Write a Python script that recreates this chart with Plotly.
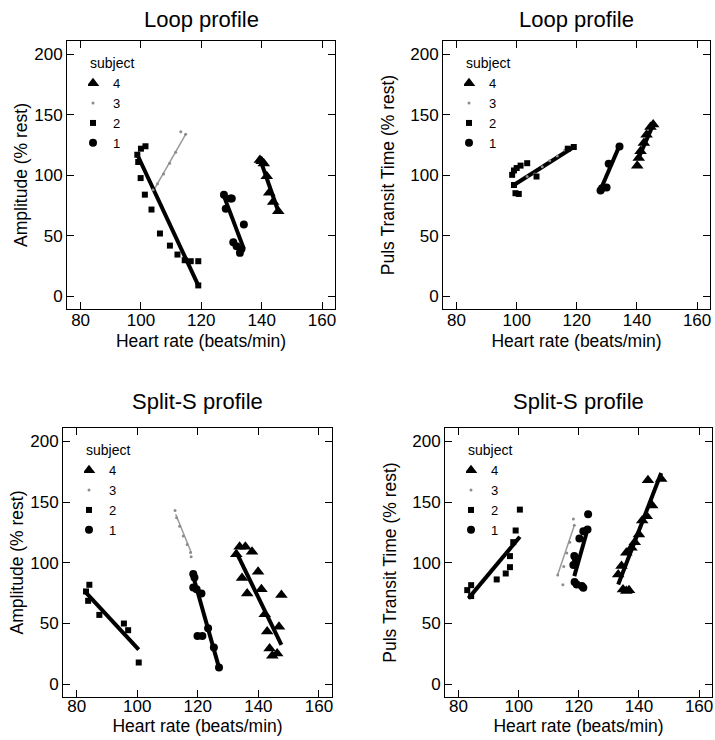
import plotly.graph_objects as go

# ---------------- data ----------------
x_ticks = [80, 100, 120, 140, 160]
y_ticks = [0, 50, 100, 150, 200]
subjects = ["4", "3", "2", "1"]
panel_titles = ["Loop profile", "Loop profile", "Split-S profile", "Split-S profile"]
x_title = "Heart rate (beats/min)"
y_titles = ["Amplitude (% rest)", "Puls Transit Time (% rest)",
            "Amplitude (% rest)", "Puls Transit Time (% rest)"]

# Loop profile - Amplitude
loop_amp_s4_hr = [139.4, 140.0, 140.7, 141.7, 142.5, 143.8, 145.5]
loop_amp_s4_val = [112.6, 111.7, 109.8, 99.3, 85.5, 78.0, 70.3]
loop_amp_s3_hr = [104.0, 105.5, 107.5, 109.5, 111.5, 113.2, 114.8]
loop_amp_s3_val = [88, 93, 101, 110, 119, 136, 134]
loop_amp_s2_hr = [100.0, 101.5, 98.8, 99.1, 99.9, 101.3, 103.5, 106.3, 109.6, 112.1, 114.5, 116.5, 119.0, 119.0]
loop_amp_s2_val = [122, 124, 117, 111, 97.7, 84, 71.7, 51.9, 41.9, 34.5, 29.8, 29, 29, 9]
loop_amp_s1_hr = [127.5, 128.1, 129.7, 130.1, 134.1, 130.6, 131.7, 132.8, 133.3]
loop_amp_s1_val = [84, 72.3, 80.8, 80.8, 59.3, 44.7, 41.4, 35.9, 39]
loop_amp_fit_s4_hr = [139.7, 145.5]
loop_amp_fit_s4_val = [111.7, 70.3]
loop_amp_fit_s3_hr = [104.4, 114.9]
loop_amp_fit_s3_val = [88.3, 134.3]
loop_amp_fit_s2_hr = [98.8, 119.0]
loop_amp_fit_s2_val = [117, 9]
loop_amp_fit_s1_hr = [127.5, 134.1]
loop_amp_fit_s1_val = [82.8, 39.2]

# Loop profile - Puls Transit Time
loop_ptt_s4_hr = [140.1, 140.6, 141.2, 142.3, 143.2, 144.5, 145.4]
loop_ptt_s4_val = [107.9, 114.2, 119.8, 126.7, 133.6, 140.0, 141.9]
loop_ptt_s3_hr = [103.5, 106.0, 108.5, 111.0, 113.5, 116.0]
loop_ptt_s3_val = [99, 101, 107, 112, 116, 121]
loop_ptt_s2_hr = [98.5, 99.1, 100.0, 101.3, 103.5, 99.6, 100.7, 99.1, 106.6, 117.0, 119.0]
loop_ptt_s2_val = [100.4, 104, 106, 108, 110, 85.2, 84.6, 92, 99, 122, 123.4]
loop_ptt_s1_hr = [127.9, 128.4, 129.9, 130.6, 134.2]
loop_ptt_s1_val = [87.4, 89.3, 89.9, 109.5, 123.9]
loop_ptt_fit_s4_hr = [140.3, 145.4]
loop_ptt_fit_s4_val = [112.9, 141.9]
loop_ptt_fit_s3_hr = [104.0, 116.5]
loop_ptt_fit_s3_val = [99, 121]
loop_ptt_fit_s2_hr = [98.8, 119.0]
loop_ptt_fit_s2_val = [91.6, 123.4]
loop_ptt_fit_s1_hr = [127.9, 134.2]
loop_ptt_fit_s1_val = [88, 124.5]

# Split-S profile - Amplitude
split_amp_s4_hr = [132.7, 133.8, 135.7, 137.9, 134.6, 136.3, 139.9, 141.0, 142.1, 142.9,
                   143.7, 144.6, 146.2, 146.8, 147.6]
split_amp_s4_val = [107.1, 113.2, 113.2, 109.1, 87.4, 74.7, 92.6, 78.3, 57.7, 43.4,
                    29.4, 23.4, 25.3, 47.3, 73.4]
split_amp_s3_hr = [112.5, 113.0, 114.0, 115.2, 116.5, 117.6, 117.8]
split_amp_s3_val = [143, 137, 130, 122, 115, 108.5, 105]
split_amp_s2_hr = [84.2, 83.1, 83.8, 87.5, 95.6, 97.0, 100.5]
split_amp_s2_val = [81.9, 76.4, 68.7, 57.1, 50.0, 44.5, 17.9]
split_amp_s1_hr = [118.5, 118.9, 118.5, 119.6, 121.2, 119.9, 121.5, 123.4, 125.3, 127.0]
split_amp_s1_val = [90.7, 87.9, 79.7, 78.3, 74.7, 39.8, 39.8, 46.2, 30.2, 13.7]
split_amp_fit_s4_hr = [132.5, 147.6]
split_amp_fit_s4_val = [109.9, 32.4]
split_amp_fit_s3_hr = [112.7, 117.9]
split_amp_fit_s3_val = [140, 108]
split_amp_fit_s2_hr = [82.7, 100.5]
split_amp_fit_s2_val = [76.4, 28.6]
split_amp_fit_s1_hr = [118.5, 127.0]
split_amp_fit_s1_val = [88.7, 13.7]

# Split-S profile - Puls Transit Time
split_ptt_s4_hr = [135.8, 136.7, 134.7, 133.1, 134.2, 135.8, 137.5, 138.6, 140.0, 141.1,
                   142.6, 143.0, 147.4, 144.4]
split_ptt_s4_val = [76.7, 77.5, 78.0, 90.4, 97.3, 108.2, 112.3, 117.0, 123.3, 134.8,
                    138.4, 168.0, 169.0, 147.1]
split_ptt_s3_hr = [113.0, 114.7, 115.0, 116.0, 117.0, 118.2, 118.5]
split_ptt_s3_val = [90, 82, 97, 108, 117, 136, 131]
split_ptt_s2_hr = [82.9, 84.2, 84.2, 92.7, 95.7, 97.1, 97.1, 99.0, 100.4, 98.2]
split_ptt_s2_val = [77.5, 81.6, 72.6, 86.3, 91.2, 105.5, 96.4, 126.6, 143.8, 117.0]
split_ptt_s1_hr = [118.6, 119.3, 121.0, 121.5, 118.2, 119.0, 120.2, 121.5, 122.9, 123.1, 118.5]
split_ptt_s1_val = [84.1, 82.2, 80.8, 79.5, 98.1, 103.3, 120.0, 126.0, 127.4, 140.0, 105.5]
split_ptt_fit_s4_hr = [133.1, 147.4]
split_ptt_fit_s4_val = [82.2, 174]
split_ptt_fit_s3_hr = [113.0, 118.5]
split_ptt_fit_s3_val = [90.4, 130.7]
split_ptt_fit_s2_hr = [83.3, 100.4]
split_ptt_fit_s2_val = [70.7, 121.4]
split_ptt_fit_s1_hr = [118.5, 122.9]
split_ptt_fit_s1_val = [89, 127.4]

panels = [
    dict(points=[(loop_amp_s4_hr, loop_amp_s4_val), (loop_amp_s3_hr, loop_amp_s3_val),
                 (loop_amp_s2_hr, loop_amp_s2_val), (loop_amp_s1_hr, loop_amp_s1_val)],
         fits=[(loop_amp_fit_s4_hr, loop_amp_fit_s4_val), (loop_amp_fit_s3_hr, loop_amp_fit_s3_val),
               (loop_amp_fit_s2_hr, loop_amp_fit_s2_val), (loop_amp_fit_s1_hr, loop_amp_fit_s1_val)]),
    dict(points=[(loop_ptt_s4_hr, loop_ptt_s4_val), (loop_ptt_s3_hr, loop_ptt_s3_val),
                 (loop_ptt_s2_hr, loop_ptt_s2_val), (loop_ptt_s1_hr, loop_ptt_s1_val)],
         fits=[(loop_ptt_fit_s4_hr, loop_ptt_fit_s4_val), (loop_ptt_fit_s3_hr, loop_ptt_fit_s3_val),
               (loop_ptt_fit_s2_hr, loop_ptt_fit_s2_val), (loop_ptt_fit_s1_hr, loop_ptt_fit_s1_val)]),
    dict(points=[(split_amp_s4_hr, split_amp_s4_val), (split_amp_s3_hr, split_amp_s3_val),
                 (split_amp_s2_hr, split_amp_s2_val), (split_amp_s1_hr, split_amp_s1_val)],
         fits=[(split_amp_fit_s4_hr, split_amp_fit_s4_val), (split_amp_fit_s3_hr, split_amp_fit_s3_val),
               (split_amp_fit_s2_hr, split_amp_fit_s2_val), (split_amp_fit_s1_hr, split_amp_fit_s1_val)]),
    dict(points=[(split_ptt_s4_hr, split_ptt_s4_val), (split_ptt_s3_hr, split_ptt_s3_val),
                 (split_ptt_s2_hr, split_ptt_s2_val), (split_ptt_s1_hr, split_ptt_s1_val)],
         fits=[(split_ptt_fit_s4_hr, split_ptt_fit_s4_val), (split_ptt_fit_s3_hr, split_ptt_fit_s3_val),
               (split_ptt_fit_s2_hr, split_ptt_fit_s2_val), (split_ptt_fit_s1_hr, split_ptt_fit_s1_val)]),
]

# ---------------- style ----------------
W, H = 715, 740
FONT = "Liberation Sans, Arial, Helvetica, sans-serif"


def px(v):  # page x pixel -> paper fraction
    return v / W


def py(v):  # page y pixel -> paper fraction
    return 1 - v / H


marker_styles = {
    "4": dict(symbol="triangle-up", size=11, color="black"),
    "3": dict(symbol="circle", size=3, color="#8c8c8c"),
    "2": dict(symbol="square", size=6, color="black"),
    "1": dict(symbol="circle", size=8, color="black"),
}
fit_styles = {
    "4": dict(color="black", width=4),
    "3": dict(color="#9a9a9a", width=1.5),
    "2": dict(color="black", width=4),
    "1": dict(color="black", width=4),
}
# page pixel boxes: (left, right, top, bottom)
boxes = [(67, 335, 41, 309), (443, 710, 41, 309), (63, 332, 428, 697), (445, 712, 428, 697)]
title_gap = [21, 21, 27, 27]
xtick_standoff = [-4, -4, -6, -6]
xtitle_standoff = [5, 5, 0, 0]
ytitle_standoff = [2, 11, 2, 11]
x_range = [75.5, 164.3]
y_range = [-10.5, 211]

fig = go.Figure()
for i, p in enumerate(panels):
    n = "" if i == 0 else str(i + 1)
    xa, ya = "x" + n, "y" + n
    leg = "legend" + n
    for s, (fx, fy) in zip(subjects, p["fits"]):
        fig.add_trace(go.Scatter(x=fx, y=fy, mode="lines", line=fit_styles[s],
                                 xaxis=xa, yaxis=ya, showlegend=False, hoverinfo="skip"))
    for s, (sx, sy) in zip(subjects, p["points"]):
        fig.add_trace(go.Scatter(x=sx, y=sy, mode="markers", name=s,
                                 marker=marker_styles[s], xaxis=xa, yaxis=ya,
                                 legend=leg, showlegend=True))

layout = dict(
    width=W, height=H, margin=dict(l=0, r=0, t=0, b=0),
    paper_bgcolor="white", plot_bgcolor="white",
    font=dict(family=FONT, color="black", size=17),
    showlegend=True,
)
annotations = []
for i, (l, r, t, b) in enumerate(boxes):
    n = "" if i == 0 else str(i + 1)
    axis_common = dict(showline=True, linecolor="black", linewidth=1, mirror="ticks",
                       ticks="inside", ticklen=7, tickcolor="black", tickwidth=1,
                       showgrid=False, zeroline=False, automargin=False,
                       tickfont=dict(size=17, family=FONT, color="black"))
    layout["xaxis" + n] = dict(axis_common, domain=[px(l), px(r)], range=x_range,
                               tickvals=x_ticks, anchor="y" + n,
                               ticklabelstandoff=xtick_standoff[i],
                               title=dict(text=x_title, font=dict(size=17.5),
                                          standoff=xtitle_standoff[i]))
    layout["yaxis" + n] = dict(axis_common, domain=[py(b), py(t)], range=y_range,
                               tickvals=y_ticks, anchor="x" + n,
                               title=dict(text=y_titles[i], font=dict(size=17.5),
                                          standoff=ytitle_standoff[i]))
    layout["legend" + n] = dict(x=px(l + 21), y=py(t + 9), xanchor="left", yanchor="top",
                                bgcolor="rgba(0,0,0,0)", borderwidth=0, indentation=-15,
                                font=dict(size=13, family=FONT, color="black"),
                                title=dict(text="subject", font=dict(size=14, family=FONT)),
                                itemclick=False, itemdoubleclick=False)
    annotations.append(dict(text=panel_titles[i], x=px((l + r) / 2), y=py(t - title_gap[i]),
                            xref="paper", yref="paper", xanchor="center", yanchor="middle",
                            showarrow=False, font=dict(size=22, family=FONT, color="black")))
layout["annotations"] = annotations
fig.update_layout(**layout)
# place the 715x740 figure at the page origin (remove the default body margin)
fig.write_html("out.html", config={"displayModeBar": False},
               post_script="document.body.style.margin='0';document.body.style.overflow='hidden';")
